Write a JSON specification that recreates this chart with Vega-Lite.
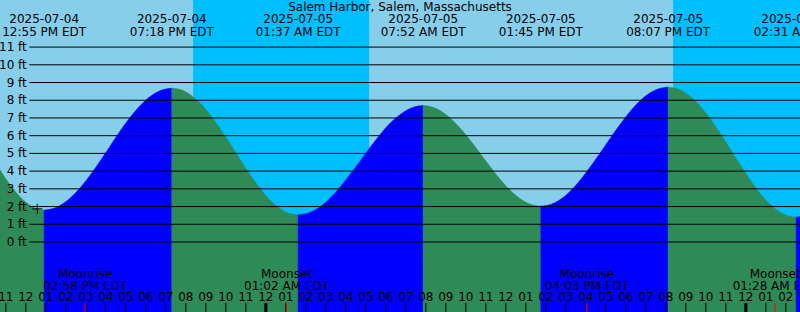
{
  "$schema": "https://vega.github.io/schema/vega-lite/v6.json",
  "width": 800,
  "height": 312,
  "autosize": {"type": "none"},
  "padding": 0,
  "background": "#87CEEB",
  "config": {
    "view": {"stroke": null},
    "font": "DejaVu Sans",
    "text": {"font": "DejaVu Sans", "fontSize": 12, "color": "black"}
  },
  "datasets": {
    "night": [
      {"start": "2025-07-04T20:22", "end": "2025-07-05T05:10"},
      {"start": "2025-07-05T20:22", "end": "2025-07-06T02:42:30"}
    ],
    "tide": [
      {"t": "2025-07-04T10:42:30", "h": 4.06, "seg": "s0", "dir": "falling"},
      {"t": "2025-07-04T11:00", "h": 3.56, "seg": "s0", "dir": "falling"},
      {"t": "2025-07-04T11:30", "h": 2.81, "seg": "s0", "dir": "falling"},
      {"t": "2025-07-04T12:00", "h": 2.24, "seg": "s0", "dir": "falling"},
      {"t": "2025-07-04T12:27:30", "h": 1.91, "seg": "s0", "dir": "falling"},
      {"t": "2025-07-04T12:55", "h": 1.80, "seg": "s0", "dir": "falling"},

      {"t": "2025-07-04T12:55", "h": 1.80, "seg": "s1", "dir": "rising"},
      {"t": "2025-07-04T13:27", "h": 1.917, "seg": "s1", "dir": "rising"},
      {"t": "2025-07-04T13:59", "h": 2.261, "seg": "s1", "dir": "rising"},
      {"t": "2025-07-04T14:31", "h": 2.808, "seg": "s1", "dir": "rising"},
      {"t": "2025-07-04T15:03", "h": 3.52, "seg": "s1", "dir": "rising"},
      {"t": "2025-07-04T15:35", "h": 4.35, "seg": "s1", "dir": "rising"},
      {"t": "2025-07-04T16:07", "h": 5.24, "seg": "s1", "dir": "rising"},
      {"t": "2025-07-04T16:38", "h": 6.13, "seg": "s1", "dir": "rising"},
      {"t": "2025-07-04T17:10", "h": 6.96, "seg": "s1", "dir": "rising"},
      {"t": "2025-07-04T17:42", "h": 7.672, "seg": "s1", "dir": "rising"},
      {"t": "2025-07-04T18:14", "h": 8.219, "seg": "s1", "dir": "rising"},
      {"t": "2025-07-04T18:46", "h": 8.563, "seg": "s1", "dir": "rising"},
      {"t": "2025-07-04T19:18", "h": 8.68, "seg": "s1", "dir": "rising"},

      {"t": "2025-07-04T19:18", "h": 8.68, "seg": "s2", "dir": "falling"},
      {"t": "2025-07-04T19:50", "h": 8.558, "seg": "s2", "dir": "falling"},
      {"t": "2025-07-04T20:21", "h": 8.201, "seg": "s2", "dir": "falling"},
      {"t": "2025-07-04T20:53", "h": 7.633, "seg": "s2", "dir": "falling"},
      {"t": "2025-07-04T21:24", "h": 6.893, "seg": "s2", "dir": "falling"},
      {"t": "2025-07-04T21:56", "h": 6.03, "seg": "s2", "dir": "falling"},
      {"t": "2025-07-04T22:28", "h": 5.105, "seg": "s2", "dir": "falling"},
      {"t": "2025-07-04T22:59", "h": 4.18, "seg": "s2", "dir": "falling"},
      {"t": "2025-07-04T23:31", "h": 3.318, "seg": "s2", "dir": "falling"},
      {"t": "2025-07-05T00:02", "h": 2.577, "seg": "s2", "dir": "falling"},
      {"t": "2025-07-05T00:34", "h": 2.009, "seg": "s2", "dir": "falling"},
      {"t": "2025-07-05T01:05", "h": 1.652, "seg": "s2", "dir": "falling"},
      {"t": "2025-07-05T01:37", "h": 1.53, "seg": "s2", "dir": "falling"},

      {"t": "2025-07-05T01:37", "h": 1.53, "seg": "s3", "dir": "rising"},
      {"t": "2025-07-05T02:08", "h": 1.635, "seg": "s3", "dir": "rising"},
      {"t": "2025-07-05T02:40", "h": 1.943, "seg": "s3", "dir": "rising"},
      {"t": "2025-07-05T03:11", "h": 2.434, "seg": "s3", "dir": "rising"},
      {"t": "2025-07-05T03:42", "h": 3.073, "seg": "s3", "dir": "rising"},
      {"t": "2025-07-05T04:13", "h": 3.817, "seg": "s3", "dir": "rising"},
      {"t": "2025-07-05T04:45", "h": 4.615, "seg": "s3", "dir": "rising"},
      {"t": "2025-07-05T05:16", "h": 5.413, "seg": "s3", "dir": "rising"},
      {"t": "2025-07-05T05:47", "h": 6.158, "seg": "s3", "dir": "rising"},
      {"t": "2025-07-05T06:18", "h": 6.796, "seg": "s3", "dir": "rising"},
      {"t": "2025-07-05T06:50", "h": 7.287, "seg": "s3", "dir": "rising"},
      {"t": "2025-07-05T07:21", "h": 7.595, "seg": "s3", "dir": "rising"},
      {"t": "2025-07-05T07:52", "h": 7.70, "seg": "s3", "dir": "rising"},

      {"t": "2025-07-05T07:52", "h": 7.70, "seg": "s4", "dir": "falling"},
      {"t": "2025-07-05T08:21", "h": 7.603, "seg": "s4", "dir": "falling"},
      {"t": "2025-07-05T08:51", "h": 7.32, "seg": "s4", "dir": "falling"},
      {"t": "2025-07-05T09:20", "h": 6.868, "seg": "s4", "dir": "falling"},
      {"t": "2025-07-05T09:50", "h": 6.28, "seg": "s4", "dir": "falling"},
      {"t": "2025-07-05T10:19", "h": 5.595, "seg": "s4", "dir": "falling"},
      {"t": "2025-07-05T10:48:30", "h": 4.86, "seg": "s4", "dir": "falling"},
      {"t": "2025-07-05T11:18", "h": 4.125, "seg": "s4", "dir": "falling"},
      {"t": "2025-07-05T11:47", "h": 3.44, "seg": "s4", "dir": "falling"},
      {"t": "2025-07-05T12:17", "h": 2.852, "seg": "s4", "dir": "falling"},
      {"t": "2025-07-05T12:46", "h": 2.40, "seg": "s4", "dir": "falling"},
      {"t": "2025-07-05T13:16", "h": 2.117, "seg": "s4", "dir": "falling"},
      {"t": "2025-07-05T13:45", "h": 2.02, "seg": "s4", "dir": "falling"},

      {"t": "2025-07-05T13:45", "h": 2.02, "seg": "s5", "dir": "rising"},
      {"t": "2025-07-05T14:17", "h": 2.134, "seg": "s5", "dir": "rising"},
      {"t": "2025-07-05T14:49", "h": 2.47, "seg": "s5", "dir": "rising"},
      {"t": "2025-07-05T15:20:30", "h": 3.004, "seg": "s5", "dir": "rising"},
      {"t": "2025-07-05T15:52", "h": 3.70, "seg": "s5", "dir": "rising"},
      {"t": "2025-07-05T16:24", "h": 4.51, "seg": "s5", "dir": "rising"},
      {"t": "2025-07-05T16:56", "h": 5.38, "seg": "s5", "dir": "rising"},
      {"t": "2025-07-05T17:28", "h": 6.25, "seg": "s5", "dir": "rising"},
      {"t": "2025-07-05T18:00", "h": 7.06, "seg": "s5", "dir": "rising"},
      {"t": "2025-07-05T18:31:30", "h": 7.756, "seg": "s5", "dir": "rising"},
      {"t": "2025-07-05T19:03", "h": 8.29, "seg": "s5", "dir": "rising"},
      {"t": "2025-07-05T19:35", "h": 8.626, "seg": "s5", "dir": "rising"},
      {"t": "2025-07-05T20:07", "h": 8.74, "seg": "s5", "dir": "rising"},

      {"t": "2025-07-05T20:07", "h": 8.74, "seg": "s6", "dir": "falling"},
      {"t": "2025-07-05T20:39", "h": 8.615, "seg": "s6", "dir": "falling"},
      {"t": "2025-07-05T21:11", "h": 8.248, "seg": "s6", "dir": "falling"},
      {"t": "2025-07-05T21:43", "h": 7.665, "seg": "s6", "dir": "falling"},
      {"t": "2025-07-05T22:15", "h": 6.905, "seg": "s6", "dir": "falling"},
      {"t": "2025-07-05T22:47", "h": 6.02, "seg": "s6", "dir": "falling"},
      {"t": "2025-07-05T23:19", "h": 5.07, "seg": "s6", "dir": "falling"},
      {"t": "2025-07-05T23:51", "h": 4.12, "seg": "s6", "dir": "falling"},
      {"t": "2025-07-06T00:23", "h": 3.235, "seg": "s6", "dir": "falling"},
      {"t": "2025-07-06T00:55", "h": 2.475, "seg": "s6", "dir": "falling"},
      {"t": "2025-07-06T01:27", "h": 1.892, "seg": "s6", "dir": "falling"},
      {"t": "2025-07-06T01:59", "h": 1.525, "seg": "s6", "dir": "falling"},
      {"t": "2025-07-06T02:31", "h": 1.40, "seg": "s6", "dir": "falling"},

      {"t": "2025-07-06T02:31", "h": 1.40, "seg": "s7", "dir": "rising"},
      {"t": "2025-07-06T02:42:30", "h": 1.42, "seg": "s7", "dir": "rising"}
    ],
    "grid": [
      {"ft": 0, "label": "0 ft"}, {"ft": 1, "label": "1 ft"}, {"ft": 2, "label": "2 ft"},
      {"ft": 3, "label": "3 ft"}, {"ft": 4, "label": "4 ft"}, {"ft": 5, "label": "5 ft"},
      {"ft": 6, "label": "6 ft"}, {"ft": 7, "label": "7 ft"}, {"ft": 8, "label": "8 ft"},
      {"ft": 9, "label": "9 ft"}, {"ft": 10, "label": "10 ft"}, {"ft": 11, "label": "11 ft"}
    ],
    "hours": [
      {"t": "2025-07-04T11:00"}, {"t": "2025-07-04T12:00"}, {"t": "2025-07-04T13:00"},
      {"t": "2025-07-04T14:00"}, {"t": "2025-07-04T15:00"}, {"t": "2025-07-04T16:00"},
      {"t": "2025-07-04T17:00"}, {"t": "2025-07-04T18:00"}, {"t": "2025-07-04T19:00"},
      {"t": "2025-07-04T20:00"}, {"t": "2025-07-04T21:00"}, {"t": "2025-07-04T22:00"},
      {"t": "2025-07-04T23:00"}, {"t": "2025-07-05T00:00"}, {"t": "2025-07-05T01:00"},
      {"t": "2025-07-05T02:00"}, {"t": "2025-07-05T03:00"}, {"t": "2025-07-05T04:00"},
      {"t": "2025-07-05T05:00"}, {"t": "2025-07-05T06:00"}, {"t": "2025-07-05T07:00"},
      {"t": "2025-07-05T08:00"}, {"t": "2025-07-05T09:00"}, {"t": "2025-07-05T10:00"},
      {"t": "2025-07-05T11:00"}, {"t": "2025-07-05T12:00"}, {"t": "2025-07-05T13:00"},
      {"t": "2025-07-05T14:00"}, {"t": "2025-07-05T15:00"}, {"t": "2025-07-05T16:00"},
      {"t": "2025-07-05T17:00"}, {"t": "2025-07-05T18:00"}, {"t": "2025-07-05T19:00"},
      {"t": "2025-07-05T20:00"}, {"t": "2025-07-05T21:00"}, {"t": "2025-07-05T22:00"},
      {"t": "2025-07-05T23:00"}, {"t": "2025-07-06T00:00"}, {"t": "2025-07-06T01:00"},
      {"t": "2025-07-06T02:00"}
    ],
    "marker": [{"t": "2025-07-04T12:34:30", "h": 1.87}],
    "title": [{"name": "Salem Harbor, Salem, Massachusetts"}],
    "extremes": [
      {"t": "2025-07-04T12:55", "date": "2025-07-04", "time": "12:55 PM EDT"},
      {"t": "2025-07-04T19:18", "date": "2025-07-04", "time": "07:18 PM EDT"},
      {"t": "2025-07-05T01:37", "date": "2025-07-05", "time": "01:37 AM EDT"},
      {"t": "2025-07-05T07:52", "date": "2025-07-05", "time": "07:52 AM EDT"},
      {"t": "2025-07-05T13:45", "date": "2025-07-05", "time": "01:45 PM EDT"},
      {"t": "2025-07-05T20:07", "date": "2025-07-05", "time": "08:07 PM EDT"},
      {"t": "2025-07-06T02:31", "date": "2025-07-06", "time": "02:31 AM EDT"}
    ],
    "moon": [
      {"t": "2025-07-04T14:58", "event": "Moonrise", "time": "02:58 PM EDT"},
      {"t": "2025-07-05T01:02", "event": "Moonset", "time": "01:02 AM EDT"},
      {"t": "2025-07-05T16:03", "event": "Moonrise", "time": "04:03 PM EDT"},
      {"t": "2025-07-06T01:28", "event": "Moonset", "time": "01:28 AM EDT"}
    ]
  },
  "layer": [
    {
      "data": {"name": "night"},
      "mark": {"type": "rect", "color": "#00BFFF"},
      "encoding": {
        "x": {
          "field": "start", "type": "temporal", "axis": null,
          "scale": {
            "domain": [
              {"year": 2025, "month": 7, "date": 4, "hours": 10, "minutes": 42, "seconds": 30},
              {"year": 2025, "month": 7, "date": 6, "hours": 2, "minutes": 42, "seconds": 30}
            ],
            "nice": false
          }
        },
        "x2": {"field": "end"}
      }
    },
    {
      "data": {"name": "tide"},
      "mark": {"type": "area", "interpolate": "monotone", "strokeWidth": 0.6, "clip": true},
      "encoding": {
        "x": {"field": "t", "type": "temporal", "axis": null},
        "y": {
          "field": "h", "type": "quantitative", "axis": null,
          "scale": {"domain": [-3.95, 13.657], "nice": false, "zero": false}
        },
        "y2": {"datum": -3.95},
        "color": {
          "field": "dir", "type": "nominal", "legend": null,
          "scale": {"domain": ["rising", "falling"], "range": ["#0000FF", "#2E8B57"]}
        },
        "stroke": {
          "field": "dir", "type": "nominal", "legend": null,
          "scale": {"domain": ["rising", "falling"], "range": ["#0000FF", "#2E8B57"]}
        },
        "detail": {"field": "seg"}
      }
    },
    {
      "data": {"name": "grid"},
      "mark": {"type": "rule", "color": "black", "strokeWidth": 1},
      "encoding": {
        "x": {"datum": {"year": 2025, "month": 7, "date": 4, "hours": 12, "minutes": 10, "seconds": 30}, "type": "temporal", "axis": null},
        "x2": {"datum": {"year": 2025, "month": 7, "date": 6, "hours": 2, "minutes": 42, "seconds": 30}},
        "y": {"field": "ft", "type": "quantitative", "axis": null}
      }
    },
    {
      "data": {"name": "grid"},
      "mark": {"type": "text", "align": "right", "baseline": "middle", "color": "black", "font": "DejaVu Sans", "fontSize": 12},
      "encoding": {
        "x": {"datum": {"year": 2025, "month": 7, "date": 4, "hours": 12, "minutes": 3}, "type": "temporal", "axis": null},
        "y": {"field": "ft", "type": "quantitative", "axis": null},
        "text": {"field": "label"}
      }
    },
    {
      "data": {"name": "marker"},
      "mark": {"type": "point", "shape": "M-1,0H1M0,-1V1", "size": 100, "filled": false, "stroke": "black", "strokeWidth": 1, "opacity": 1},
      "encoding": {
        "x": {"field": "t", "type": "temporal", "axis": null},
        "y": {"field": "h", "type": "quantitative", "axis": null}
      }
    },
    {
      "data": {"name": "title"},
      "mark": {"type": "text", "align": "center", "baseline": "alphabetic", "color": "black", "font": "DejaVu Sans", "fontSize": 12},
      "encoding": {
        "x": {"datum": {"year": 2025, "month": 7, "date": 5, "hours": 6, "minutes": 42, "seconds": 30}, "type": "temporal", "axis": null},
        "y": {"datum": 13.04, "type": "quantitative", "axis": null},
        "text": {"field": "name"}
      }
    },
    {
      "data": {"name": "extremes"},
      "mark": {"type": "text", "align": "center", "baseline": "alphabetic", "color": "black", "font": "DejaVu Sans", "fontSize": 12},
      "encoding": {
        "x": {"field": "t", "type": "temporal", "axis": null},
        "y": {"datum": 12.34, "type": "quantitative", "axis": null},
        "text": {"field": "date"}
      }
    },
    {
      "data": {"name": "extremes"},
      "mark": {"type": "text", "align": "center", "baseline": "alphabetic", "color": "black", "font": "DejaVu Sans", "fontSize": 12},
      "encoding": {
        "x": {"field": "t", "type": "temporal", "axis": null},
        "y": {"datum": 11.63, "type": "quantitative", "axis": null},
        "text": {"field": "time"}
      }
    },
    {
      "data": {"name": "moon"},
      "mark": {"type": "text", "align": "center", "baseline": "alphabetic", "color": "black", "font": "DejaVu Sans", "fontSize": 12},
      "encoding": {
        "x": {"field": "t", "type": "temporal", "axis": null},
        "y": {"datum": -2.03, "type": "quantitative", "axis": null},
        "text": {"field": "event"}
      }
    },
    {
      "data": {"name": "moon"},
      "mark": {"type": "text", "align": "center", "baseline": "alphabetic", "color": "black", "font": "DejaVu Sans", "fontSize": 12},
      "encoding": {
        "x": {"field": "t", "type": "temporal", "axis": null},
        "y": {"datum": -2.71, "type": "quantitative", "axis": null},
        "text": {"field": "time"}
      }
    },
    {
      "data": {"name": "hours"},
      "mark": {"type": "text", "align": "center", "baseline": "alphabetic", "color": "black", "font": "DejaVu Sans", "fontSize": 12},
      "encoding": {
        "x": {"field": "t", "type": "temporal", "axis": null},
        "y": {"datum": -3.33, "type": "quantitative", "axis": null},
        "text": {"field": "t", "type": "temporal", "format": "%I"}
      }
    },
    {
      "data": {"name": "hours"},
      "mark": {"type": "rule", "color": "black"},
      "encoding": {
        "x": {"field": "t", "type": "temporal", "axis": null},
        "y": {"datum": -3.44, "type": "quantitative", "axis": null},
        "y2": {"datum": -3.95},
        "strokeWidth": {"condition": {"test": "hours(datum.t) === 0", "value": 3}, "value": 1}
      }
    },
    {
      "data": {"name": "moon"},
      "mark": {"type": "rule", "color": "#FF0000", "strokeWidth": 1},
      "encoding": {
        "x": {"field": "t", "type": "temporal", "axis": null},
        "y": {"datum": -3.44, "type": "quantitative", "axis": null},
        "y2": {"datum": -3.95}
      }
    }
  ]
}
